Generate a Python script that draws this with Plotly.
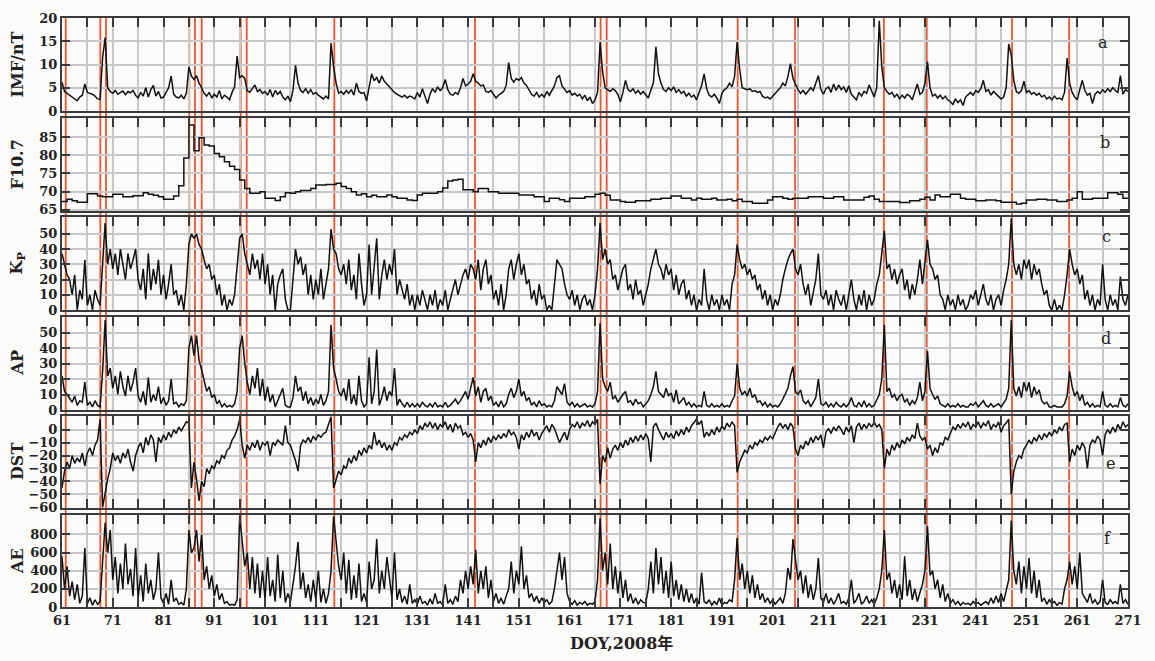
import plotly.graph_objects as go

# ---------------- data ----------------
# half-day samples, DOY 61.0 ... 271.0 (2008)
imf = [
    6.2, 4.2, 3.8, 3.4, 3.0, 2.6, 2.2, 3.0, 3.4, 5.8,
    4.0, 3.8, 3.6, 3.2, 2.6, 2.5, 11.5, 15.8, 5.0, 4.2,
    3.8, 4.4, 3.6, 4.0, 4.3, 3.5, 4.2, 3.9, 4.4, 3.4,
    2.8, 4.0, 3.2, 5.0, 3.0, 4.6, 5.5, 3.2, 4.2, 2.8,
    3.0, 4.0, 5.0, 7.5, 3.6, 3.0, 2.8, 3.4, 2.6, 3.8,
    9.5, 7.5, 6.8, 7.6, 6.0, 5.0, 3.8, 3.2, 4.0, 2.8,
    3.6, 3.0, 4.4, 2.6, 3.4, 3.0, 2.4, 4.0, 5.2, 11.8,
    7.2, 7.6, 7.0, 4.4, 4.0, 4.8, 5.6, 4.2, 4.6, 3.8,
    4.2, 3.4, 4.6, 3.0, 4.4, 3.6, 4.2, 3.0, 2.4, 3.2,
    2.0, 4.5, 9.8, 6.0, 4.4, 4.0, 4.8, 3.8, 4.6, 3.6,
    4.0, 3.4, 3.0, 2.6, 3.2, 2.6, 14.6, 9.5, 6.0, 3.8,
    4.2, 3.6, 4.4, 3.8, 4.6, 3.4, 6.0, 4.2, 3.8, 4.0,
    2.2, 5.5, 8.0, 6.5, 7.2, 6.0, 7.5, 6.4, 5.8, 5.0,
    4.6, 4.0, 3.6, 3.2, 3.0, 3.4, 2.8, 3.2, 3.0, 2.6,
    4.0, 3.0, 4.8, 3.2, 1.6, 3.6, 4.8, 4.0, 5.2, 4.4,
    5.0, 6.8, 4.6, 3.6, 3.4, 4.0, 3.6, 5.0, 7.0, 5.4,
    5.8, 6.4, 8.0, 6.4, 6.0, 5.4, 5.6, 4.2, 4.0, 4.4,
    3.6, 2.8, 3.4, 3.8, 4.2, 5.5, 10.4, 7.0, 6.2, 7.0,
    6.6, 7.2, 6.0, 5.5, 4.4, 3.6, 3.2, 4.0, 3.0, 3.6,
    3.0, 4.2, 3.4, 4.4, 5.4, 7.2, 7.6, 5.4, 4.6, 4.0,
    4.4, 3.4, 3.8, 3.2, 3.6, 2.6, 3.4, 2.2, 3.0, 1.6,
    2.4, 4.0, 14.8, 8.4, 5.0, 4.6, 4.2, 4.8, 4.4, 3.6,
    2.0, 4.0, 6.6, 4.6, 4.2, 4.8, 3.8, 4.4, 3.6, 4.2,
    3.6, 2.8, 4.5, 6.0, 13.8, 8.0, 6.0, 4.6, 4.2, 5.0,
    4.4, 5.2, 4.0, 4.6, 3.8, 4.2, 3.2, 3.8, 3.0, 3.4,
    2.4, 4.0, 5.5, 8.0, 4.8, 3.4, 3.0, 3.6, 2.8, 1.6,
    3.8, 4.6, 5.0, 6.0, 5.2, 7.5, 14.8, 9.0, 5.0, 4.8,
    4.6, 4.8, 4.2, 4.4, 4.0, 4.2, 3.2, 2.8, 3.0, 2.6,
    3.2, 4.0, 4.6, 5.0, 6.0, 5.4, 7.4, 10.2, 7.0, 5.6,
    4.6, 3.8, 4.4, 3.6, 4.2, 5.0, 4.4, 6.0, 7.6, 4.6,
    3.6, 4.8, 5.2, 4.0, 5.8, 4.4, 5.6, 4.6, 5.2, 4.0,
    5.4, 3.6, 3.0, 2.4, 4.0, 3.2, 4.2, 3.8, 5.6, 4.4,
    3.0, 5.0, 19.4, 9.5, 5.0, 4.2, 3.6, 4.0, 3.0, 3.6,
    2.6, 3.4, 2.8, 3.6, 3.2, 2.4, 4.0, 5.8, 3.6, 4.0,
    6.0, 10.6, 5.0, 3.2, 3.6, 2.8, 3.4, 2.6, 3.2, 2.4,
    2.0, 1.4, 2.6, 1.8, 2.4, 1.2, 3.0, 3.6, 4.0, 3.4,
    4.4, 4.0, 4.8, 6.6, 4.2, 4.6, 3.4, 4.2, 3.6, 3.0,
    2.6, 3.0, 5.0, 14.4, 12.0, 6.6, 4.2, 3.8, 4.4, 6.4,
    4.0, 4.4, 3.6, 4.0, 3.4, 3.8, 3.0, 3.4, 2.6, 3.0,
    2.4, 3.2, 2.6, 2.8, 2.4, 4.0, 11.4, 6.0, 4.0, 3.0,
    2.4, 4.6, 6.6, 4.4, 3.4, 3.8, 1.6, 3.6, 4.2, 3.8,
    4.6, 4.0, 4.8, 4.2, 5.0, 4.4, 4.0, 7.6, 3.6, 4.6,
    4.2,
]

kp = [
    37, 30, 23, 20, 10, 23, 0, 13, 7, 33,
    3, 10, 0, 13, 7, 3, 30, 57, 30, 40,
    27, 37, 23, 40, 30, 20, 37, 27, 33, 40,
    20, 13, 27, 7, 37, 13, 27, 17, 33, 10,
    23, 7, 17, 30, 10, 13, 3, 10, 0, 17,
    43, 50, 47, 50, 43, 40, 33, 27, 30, 20,
    23, 10, 17, 3, 10, 0, 7, 3, 10, 27,
    47, 50, 37, 30, 23, 37, 27, 33, 20, 37,
    17, 30, 10, 23, 0, 17, 23, 27, 7, 0,
    0, 20, 40, 30, 35, 23, 30, 10, 23, 7,
    20, 10, 27, 7, 17, 27, 53, 40, 37, 27,
    23, 30, 17, 33, 13, 23, 7, 37, 17, 3,
    10, 43, 10, 27, 47, 7, 23, 33, 20, 30,
    23, 40, 10, 20, 13, 7, 17, 3, 10, 0,
    10, 3, 13, 7, 0, 10, 3, 13, 0, 7,
    3, 13, 0, 7, 13, 20, 10, 17, 23, 27,
    20, 30, 27, 20, 33, 13, 27, 33, 17, 23,
    7, 13, 3, 17, 0, 10, 27, 33, 20, 30,
    37, 23, 30, 17, 20, 7, 13, 3, 17, 7,
    10, 0, 3, 0, 17, 33, 30, 27, 17, 10,
    7, 13, 3, 10, 0, 7, 10, 3, 7, 0,
    10, 27, 57, 33, 40, 30, 33, 20, 23, 13,
    20, 27, 30, 13, 17, 7, 20, 10, 13, 3,
    10, 17, 27, 33, 40, 30, 27, 20, 30, 23,
    27, 13, 23, 10, 17, 20, 7, 13, 3, 10,
    0, 7, 3, 27, 7, 0, 10, 3, 7, 0,
    10, 3, 7, 0, 17, 23, 43, 33, 27, 30,
    23, 27, 20, 23, 13, 17, 7, 13, 3, 10,
    0, 7, 3, 10, 20, 27, 33, 37, 40, 27,
    23, 30, 17, 10, 17, 3, 13, 20, 37, 10,
    7, 13, 3, 10, 0, 13, 7, 3, 10, 0,
    10, 20, 7, 0, 10, 3, 13, 0, 10, 3,
    7, 17, 23, 37, 52, 27, 30, 20, 27, 17,
    23, 27, 13, 20, 7, 17, 10, 20, 33, 17,
    30, 46, 30, 27, 20, 23, 10, 7, 0, 10,
    3, 7, 0, 10, 3, 7, 0, 3, 10, 7,
    13, 3, 10, 17, 7, 3, 10, 0, 7, 10,
    3, 13, 20, 30, 60, 30, 23, 30, 20, 33,
    27, 33, 20, 30, 23, 27, 17, 10, 13, 3,
    0, 7, 0, 3, 0, 10, 23, 40, 30, 23,
    27, 17, 23, 7, 13, 3, 10, 0, 7, 3,
    30, 7, 0, 10, 3, 7, 0, 22, 7, 3,
    10,
]

ap = [
    22, 12, 10, 7, 5, 9, 3, 6, 5, 18,
    3, 5, 2, 6, 3, 2, 25, 58, 22, 27,
    14, 22, 10, 25, 15, 9, 22, 12, 18, 27,
    9, 5, 12, 3, 21, 5, 10, 6, 15, 4,
    8, 3, 6, 20, 4, 5, 2, 4, 3, 6,
    40, 48, 35, 48, 32, 26, 18, 12, 15, 8,
    10, 4, 6, 2, 4, 2, 3, 2, 4, 12,
    40, 48, 30, 18, 10, 22, 14, 27, 9, 20,
    6, 15, 5, 10, 2, 6, 10, 14, 3, 2,
    2, 8, 22, 12, 15, 6, 12, 4, 8, 3,
    7, 4, 10, 3, 6, 12, 55, 27, 20, 12,
    9, 14, 6, 20, 4, 10, 3, 22, 6, 2,
    4, 34, 4, 12, 39, 3, 8, 15, 6, 12,
    9, 27, 3, 7, 4, 2, 5, 2, 4, 2,
    4, 2, 5, 3, 2, 4, 2, 5, 2, 3,
    2, 5, 2, 3, 5, 7, 4, 6, 9, 12,
    7, 14, 21, 9, 15, 5, 12, 14, 6, 9,
    3, 5, 2, 6, 2, 4, 10, 14, 8, 12,
    20, 9, 12, 6, 8, 3, 5, 2, 6, 3,
    4, 2, 3, 2, 6, 15, 12, 10, 17, 5,
    3, 5, 2, 4, 2, 3, 4, 2, 3, 2,
    4, 12, 56, 20, 15, 12, 18, 7, 9, 5,
    8, 10, 12, 5, 6, 3, 7, 4, 5, 2,
    4, 6, 10, 15, 25, 12, 10, 8, 14, 9,
    11, 5, 13, 4, 6, 8, 3, 5, 2, 4,
    2, 3, 2, 12, 3, 2, 4, 2, 3, 2,
    4, 2, 3, 2, 6, 9, 30, 14, 10, 12,
    9, 14, 8, 10, 5, 6, 3, 5, 2, 4,
    2, 3, 2, 4, 7, 10, 14, 22, 28, 12,
    10, 13, 6, 4, 6, 2, 5, 8, 20, 4,
    3, 5, 2, 4, 2, 5, 3, 2, 4, 2,
    4, 8, 3, 2, 5, 2, 6, 2, 4, 2,
    3, 6, 10, 20, 55, 12, 14, 8, 10, 6,
    9, 10, 5, 7, 3, 6, 4, 8, 18, 6,
    12, 38, 14, 10, 7, 9, 4, 3, 2, 4,
    2, 3, 2, 4, 2, 3, 2, 2, 4, 3,
    5, 2, 4, 6, 3, 2, 4, 2, 3, 4,
    2, 5, 7, 14, 58, 14, 9, 15, 8, 18,
    12, 18, 8, 15, 10, 13, 6, 4, 5, 2,
    2, 3, 2, 2, 2, 4, 9, 25, 15, 9,
    12, 6, 10, 3, 5, 2, 4, 2, 3, 2,
    12, 3, 2, 4, 2, 3, 2, 8, 3, 2,
    4,
]

dst = [
    -45, -32, -25, -30, -20, -26, -22, -25, -18, -28,
    -18, -14, -20, -12, -8, 8, -60, -48, -38, -30,
    -18, -24, -20, -26, -18, -22, -15, -25, -32, -20,
    -14, -10, -18, -6, -12, -4, -8, -25, -6, -10,
    -4, -8, -2, -6, 0, -3, 2, -1, 3, 6,
    5, -45, -25, -38, -55, -40, -44, -30, -34, -28,
    -30, -24, -26, -20, -22, -16, -14, -8, -5, 0,
    8, -12, -22, -12, -16, -10, -14, -8, -16, -10,
    -12, -9, -20, -10, -12, -8, -10, -12, 3, -10,
    -12, -18, -24, -32, -12, -8, -10, -6, -10, -5,
    -8, -4, -6, -3, -2, 4, 10, -45, -38, -32,
    -35, -28, -30, -22, -26, -20, -24, -16, -20, -14,
    -18, -12, -15, -2, -12, -8, -14, -10, -16, -12,
    -16, -10, -12, -6, -8, -4, -6, -2, -4, 0,
    -3, 3, 0, 5, 2, 6, 1, 5, 0, 4,
    2, 6, 0, 4, -2, 5, 1, 3, -4, -2,
    -6, -3, -8, -25, -10, -14, -8, -12, -6, -10,
    -5, -8, -4, -7, -3, -6, 0, -4, -2, -6,
    -15, -4, -8, -2, -6, 0, -5, -2, -8, -3,
    0, 3, -2, 4, 1, -4, -10, -6, -2, -8,
    0, 4, 2, 6, 1, 5, 3, 7, 2, 6,
    4, 8, -42, -20, -25, -14, -22, -15, -12, -16,
    -10, -14, -8, -12, -6, -10, -5, -9, -4, -8,
    -3, -7, -25, 2, 5, 0, -4, -8, -2, -6,
    -3, -7, -1, -5, 0, -4, 2, -2, 3, 6,
    8, 4, 7, -6, -2, -5, 0, -4, 2, -2,
    3, 0, 5, 2, 6, 3, -33, -25, -20, -16,
    -18, -12, -15, -10, -12, -8, -10, -6, -8, -5,
    -7, -2, 2, 5, 1, 4, 0, 5, 2, -15,
    -20, -12, -15, -9, -12, -6, -10, -5, -8, -4,
    -14, -2, 1, -3, 2, -1, 3, 0, -4, 2,
    -2, 3, -10, 2, 5, 0, 4, 1, 5, 2,
    6, 2, 4, 0, -30, -15, -20, -12, -16, -10,
    -14, -8, -11, -6, -9, -4, -7, 5, -5, -8,
    -6, -15, -12, -20, -14, -18, -10, -12, -6, -8,
    -3, 2, 0, 4, 1, 5, 2, 6, 0, 4,
    2, 6, 1, 5, 3, 7, 0, 4, 2, 6,
    -2, 3, 5, 8, -50, -32, -25, -20, -22, -15,
    -12, -8, -11, -6, -9, -4, -8, -3, -6, -2,
    -5, 0, -3, 2, -1, 4, 5, -25, -15, -20,
    -12, -16, -10, -14, -30, -12, -8, -10, -5, -8,
    -20, -4, 0, -3, 2, -2, 4, 0, 6, 2,
    4,
]

ae = [
    560, 200, 450, 120, 280, 80, 250, 40, 120, 650,
    40, 100, 20, 80, 30, 60, 500, 930, 600, 850,
    300, 550, 150, 480, 200, 700, 250, 420, 120, 650,
    100, 350, 60, 480, 150, 300, 80, 200, 600, 100,
    40, 150, 30, 300, 60, 100, 30, 50, 20, 200,
    850, 600, 650, 850, 500, 800, 300, 450, 200, 350,
    120, 250, 80, 150, 40, 60, 20, 30, 20, 80,
    1000, 700, 450, 600, 200, 550, 150, 480, 100, 400,
    80, 550, 120, 300, 60, 580, 100, 400, 50, 150,
    60, 250, 450, 720, 200, 380, 100, 250, 60, 300,
    80, 400, 50, 200, 40, 150, 400, 1000, 700, 450,
    300, 600, 150, 520, 80, 350, 100, 480, 60, 150,
    50, 500, 200, 300, 750, 150, 400, 200, 550, 300,
    100, 600, 80, 200, 50, 120, 30, 250, 40, 80,
    30, 120, 40, 60, 20, 90, 30, 150, 40, 60,
    20, 250, 40, 80, 30, 120, 60, 300, 150, 400,
    200, 450, 250, 630, 150, 400, 200, 450, 100, 300,
    60, 150, 40, 100, 30, 120, 200, 500, 150, 400,
    250, 670, 200, 350, 100, 150, 60, 120, 40, 100,
    50, 80, 30, 60, 200, 400, 600, 300, 550, 150,
    60, 30, 70, 20, 50, 30, 60, 20, 40, 30,
    60, 300, 980, 400, 600, 250, 700, 200, 450, 150,
    400, 100, 300, 60, 150, 40, 100, 30, 80, 50,
    40, 200, 500, 150, 650, 250, 550, 150, 400, 100,
    500, 120, 300, 80, 250, 60, 200, 50, 150, 40,
    100, 30, 380, 60, 40, 80, 20, 60, 30, 100,
    20, 50, 40, 80, 60, 300, 760, 300, 480, 200,
    400, 150, 350, 100, 250, 80, 150, 50, 100, 40,
    80, 30, 60, 100, 40, 150, 430, 300, 750, 500,
    300, 400, 150, 350, 100, 250, 80, 200, 540, 100,
    50, 150, 40, 100, 30, 80, 150, 40, 60, 30,
    100, 300, 40, 80, 150, 30, 60, 120, 40, 80,
    30, 100, 200, 400, 850, 300, 380, 150, 300, 100,
    250, 80, 560, 120, 300, 80, 200, 60, 150, 250,
    400, 890, 350, 400, 200, 300, 100, 250, 60, 150,
    40, 80, 30, 60, 20, 50, 30, 40, 20, 60,
    30, 50, 20, 40, 60, 30, 100, 40, 120, 50,
    150, 60, 200, 300, 950, 400, 250, 500, 150, 450,
    200, 540, 150, 400, 100, 300, 60, 100, 30, 80,
    40, 60, 20, 50, 30, 200, 300, 500, 250, 450,
    200, 600, 150, 100, 50, 150, 40, 80, 30, 60,
    300, 50, 30, 80, 40, 60, 30, 250, 40, 80,
    30,
]

# daily F10.7, DOY 61 ... 271
f107 = [
    67.3, 67.9, 67.5, 67.1, 67.1, 69.4, 69.4, 68.8, 68.6, 68.6,
    69.3, 69.3, 68.6, 68.6, 68.9, 68.9, 69.7, 69.3, 69.0, 68.6,
    67.9, 67.9, 68.8, 71.6, 79.2, 88.3, 81.2, 84.8, 82.8, 82.5,
    80.5, 79.6, 78.2, 77.0, 76.1, 73.2, 70.9, 69.6, 69.6, 70.0,
    68.2, 68.2, 67.6, 68.6, 69.7, 69.6, 70.0, 70.3, 70.3, 70.9,
    71.8, 71.8, 72.0, 72.0, 72.3, 71.4, 70.9, 70.0, 69.1, 69.4,
    68.6, 69.0, 68.6, 68.6, 69.1, 68.6, 68.2, 68.2, 67.7, 67.6,
    69.1, 69.6, 69.6, 69.6, 70.0, 71.0, 72.9, 73.2, 73.4, 70.5,
    70.5, 70.0, 70.9, 70.9, 70.0, 70.0, 69.6, 69.6, 69.6, 69.6,
    69.1, 69.1, 69.1, 68.6, 68.6, 67.3, 68.2, 68.2, 67.8, 67.3,
    68.2, 68.2, 68.2, 68.6, 68.6, 69.3, 69.6, 69.0, 67.7, 67.7,
    67.3, 67.1, 67.1, 67.5, 67.5, 67.5, 67.9, 67.9, 68.2, 68.2,
    68.8, 68.8, 68.2, 68.2, 67.7, 68.2, 67.9, 67.9, 68.2, 67.7,
    67.7, 67.9, 67.5, 67.9, 67.3, 67.3, 66.8, 66.8, 66.8, 67.7,
    68.6, 68.6, 68.2, 67.9, 68.2, 68.2, 68.2, 68.6, 68.6, 68.6,
    68.2, 68.2, 68.6, 68.6, 67.7, 67.7, 67.7, 67.7, 68.5, 68.8,
    67.9, 67.3, 67.3, 67.3, 67.3, 67.0, 67.0, 67.5, 67.5, 67.9,
    68.5, 67.7, 69.1, 68.6, 68.6, 69.3, 69.3, 68.2, 67.9, 67.9,
    67.5, 67.5, 67.7, 67.7, 67.5, 67.1, 67.1, 67.1, 66.6, 66.8,
    67.7, 67.7, 67.9, 67.9, 67.7, 67.7, 67.3, 67.3, 67.7, 68.2,
    70.0, 67.9, 67.9, 68.2, 68.2, 68.2, 69.7, 69.7, 69.3, 68.2,
    68.2,
]
f107_doy = list(range(61, 61 + len(f107)))

# storm-onset markers (red vertical lines), DOY
event_doy = [61.73, 68.55, 69.67, 86.08, 87.2, 88.52, 96.2, 97.39, 114.65,
             142.36, 167.1, 168.3, 194.1, 205.4, 222.9, 231.35, 248.15, 259.4]

x_tickvals = list(range(61, 272, 10))
x_ticktext = [str(v) for v in x_tickvals]


def half_day_axis(series):
    return [61 + 0.5 * i for i in range(len(series))]


# ---------------- layout geometry ----------------
W, H = 1155, 661
ML, MR, MT, MB = 62, 27, 18, 54
PW, PH = W - ML - MR, H - MT - MB


def py(px):
    return (H - MB - px) / PH


def pxx(px):
    return (px - ML) / PW


panels = [
    dict(x=half_day_axis(imf), y=imf, rng=[0, 20], ticks=[0, 5, 10, 15, 20],
         title="IMF/nT", letter="a", shape="linear", top=18, bottom=111, lp=(1103, 42)),
    dict(x=f107_doy, y=f107, rng=[64.7, 90.2], ticks=[65, 70, 75, 80, 85],
         title="F10.7", letter="b", shape="hv", top=118, bottom=211, lp=(1105, 142)),
    dict(x=half_day_axis(kp), y=kp, rng=[0, 61], ticks=[0, 10, 20, 30, 40, 50],
         title="K<sub>P</sub>", letter="c", shape="linear", top=217, bottom=310, lp=(1106, 237)),
    dict(x=half_day_axis(ap), y=ap, rng=[0, 60], ticks=[0, 10, 20, 30, 40, 50],
         title="AP", letter="d", shape="linear", top=317, bottom=410, lp=(1106, 338)),
    dict(x=half_day_axis(dst), y=dst, rng=[-60.5, 10.5], ticks=[0, -10, -20, -30, -40, -50, -60],
         title="DST", letter="e", shape="linear", top=416, bottom=508, lp=(1110, 463)),
    dict(x=half_day_axis(ae), y=ae, rng=[0, 1015], ticks=[0, 200, 400, 600, 800],
         title="AE", letter="f", shape="linear", top=515, bottom=607, lp=(1107, 538)),
]

FRAME = "#3a3a3a"
GRID = "#c8c8c8"
BG = "#fbfbf9"
SERIF = "DejaVu Serif, Liberation Serif, serif"
tick_font = dict(family=SERIF, size=13, color="#222", weight="bold")

fig = go.Figure()
layout = dict(
    width=W, height=H,
    margin=dict(l=ML, r=MR, t=MT, b=MB, pad=0),
    paper_bgcolor=BG, plot_bgcolor=BG,
    showlegend=False,
    annotations=[], shapes=[],
)

for i, p in enumerate(panels, start=1):
    xa = "xaxis" if i == 1 else f"xaxis{i}"
    ya = "yaxis" if i == 1 else f"yaxis{i}"
    xr = "x" if i == 1 else f"x{i}"
    yr = "y" if i == 1 else f"y{i}"
    last = i == len(panels)
    fig.add_trace(go.Scatter(
        x=p["x"], y=p["y"], mode="lines", line=dict(color="#111", width=1.5, shape=p["shape"]),
        xaxis=xr, yaxis=yr, hoverinfo="skip"))
    xax = dict(
        domain=[0, 1], anchor=yr, range=[61, 271],
        tickmode="array", tickvals=x_tickvals, ticktext=x_ticktext,
        showticklabels=last, side="bottom" if last else "top",
        ticks="inside", ticklen=9, tickwidth=2, tickcolor=FRAME,
        minor=dict(tick0=61, dtick=5, ticks="inside", ticklen=9, tickwidth=2,
                   tickcolor=FRAME, showgrid=True, gridcolor=GRID, gridwidth=1.5),
        showline=True, linecolor=FRAME, linewidth=2,
        mirror="ticks" if i >= 5 else True,
        showgrid=True, gridcolor=GRID, gridwidth=1.5, zeroline=False,
        tickfont=tick_font,
    )
    if i > 1:
        xax["matches"] = "x"
    layout[xa] = xax
    layout[ya] = dict(
        domain=[py(p["bottom"]), py(p["top"])], anchor=xr, range=p["rng"],
        tickmode="array", tickvals=p["ticks"],
        ticks="inside", ticklen=8, tickwidth=2, tickcolor=FRAME,
        showline=True, linecolor=FRAME, linewidth=2, mirror="ticks",
        showgrid=True, gridcolor=GRID, gridwidth=1.5, zeroline=False,
        tickfont=tick_font,
    )
    # y title
    layout["annotations"].append(dict(
        text=p["title"], xref="paper", yref="paper",
        x=pxx(17), y=py((p["top"] + p["bottom"]) / 2),
        xanchor="center", yanchor="middle", textangle=-90, showarrow=False,
        font=dict(family=SERIF, size=16, color="#222", weight="bold")))
    # panel letter
    layout["annotations"].append(dict(
        text=p["letter"], xref="paper", yref="paper",
        x=pxx(p["lp"][0]), y=py(p["lp"][1]),
        xanchor="center", yanchor="middle", showarrow=False,
        font=dict(family=SERIF, size=16, color="#222")))

layout["annotations"].append(dict(
    text="DOY,2008年", xref="paper", yref="paper",
    x=pxx(621), y=py(643), xanchor="center", yanchor="middle", showarrow=False,
    font=dict(family="DejaVu Serif, Noto Sans CJK SC, serif", size=16, color="#222", weight="bold")))

for e in event_doy:
    layout["shapes"].append(dict(
        type="line", xref="x", yref="paper", x0=e, x1=e, y0=py(609), y1=py(18),
        line=dict(color="#ea5530", width=1.8), layer="below"))

fig.update_layout(**layout)
fig.write_html("out.html", config={"displayModeBar": False},
               post_script="document.body.style.margin='0px';")
